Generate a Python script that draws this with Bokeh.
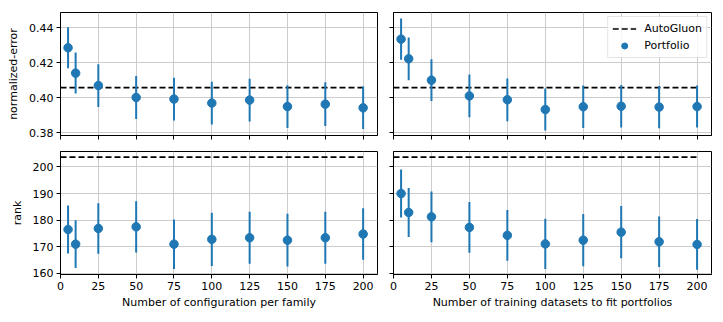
from bokeh.plotting import figure
from bokeh.layouts import gridplot
from bokeh.models import Range1d, FixedTicker, NumeralTickFormatter, Legend, LegendItem, ColumnDataSource
from bokeh.embed import file_html
from bokeh.resources import INLINE
import numpy as np

# ---------------- data ----------------
x_vals = [5, 10, 25, 50, 75, 100, 125, 150, 175, 200]
ag_x = [0, 200]

err_cfg_mean = [0.4286, 0.4141, 0.4070, 0.4002, 0.3993, 0.3970, 0.3987, 0.3950, 0.3964, 0.3943]
err_cfg_se = [0.0117, 0.0117, 0.0122, 0.0123, 0.0122, 0.0122, 0.0122, 0.0122, 0.0125, 0.0121]
err_ds_mean = [0.4335, 0.4223, 0.4101, 0.4011, 0.3989, 0.3933, 0.3949, 0.3952, 0.3947, 0.3950]
err_ds_se = [0.0118, 0.0122, 0.0119, 0.0122, 0.0122, 0.0120, 0.0121, 0.0121, 0.0121, 0.0120]

rank_cfg_mean = [176.5, 171.0, 176.9, 177.5, 171.0, 172.8, 173.4, 172.5, 173.4, 174.8]
rank_cfg_se = [9.0, 9.0, 9.5, 9.6, 9.3, 10.0, 9.8, 9.9, 9.8, 9.7]
rank_ds_mean = [190.0, 182.9, 181.25, 177.3, 174.3, 171.1, 172.5, 175.5, 171.9, 170.9]
rank_ds_se = [9.0, 9.2, 9.5, 9.5, 9.5, 9.4, 9.8, 9.8, 9.5, 9.5]

autogluon_err = 0.4058
autogluon_rank = 203.7

x_ticks = [0, 25, 50, 75, 100, 125, 150, 175, 200]
err_ticks = [0.38, 0.40, 0.42, 0.44]
rank_ticks = [160, 170, 180, 190, 200]

xlabel_left = "Number of configuration per family"
xlabel_right = "Number of training datasets to fit portfolios"

BLUE = "#1f77b4"
FONT = "DejaVu Sans"
FS = "11px"


def make(mean, se, ag, yr, yticks, left, bottom, ylabel=None, xlabel=None, legend=False, yfmt=None):
    p = figure(output_backend="svg", toolbar_location=None,
               frame_width=317 if left else 318, frame_height=123,
               x_range=Range1d(0, 209.5), y_range=Range1d(*yr))
    p.min_border_top = 12 if not bottom else 8
    p.min_border_bottom = 8 if not bottom else 40
    p.min_border_left = 60 if left else 8
    p.min_border_right = 8 if left else 4
    p.background_fill_color = "white"
    p.border_fill_color = "white"
    p.outline_line_color = "black"
    p.outline_line_width = 1
    for g in (p.xgrid, p.ygrid):
        g.grid_line_color = "#cccccc"
        g.grid_line_width = 1
    p.xaxis.ticker = FixedTicker(ticks=x_ticks)
    p.yaxis.ticker = FixedTicker(ticks=yticks)
    if yfmt:
        p.yaxis.formatter = NumeralTickFormatter(format=yfmt)
    for ax in (p.xaxis[0], p.yaxis[0]):
        ax.axis_line_color = "black"
        ax.major_tick_out = 4
        ax.major_tick_in = 0
        ax.minor_tick_out = 0
        ax.minor_tick_in = 0
        ax.major_label_text_font = FONT
        ax.major_label_text_font_size = FS
        ax.major_label_text_color = "black"
        ax.axis_label_text_font = FONT
        ax.axis_label_text_font_size = FS
        ax.axis_label_text_font_style = "normal"
        ax.axis_label_text_color = "black"
        ax.major_label_standoff = 3
    if not bottom:
        p.xaxis.major_label_overrides = {t: "" for t in x_ticks}
        p.xaxis.major_label_standoff = 0
    if not left:
        p.yaxis.major_label_overrides = {t: "" for t in yticks}
        p.yaxis.major_label_standoff = 0
    if ylabel:
        p.yaxis.axis_label = ylabel
        p.yaxis.axis_label_standoff = 6
    if xlabel:
        p.xaxis.axis_label = xlabel
        p.xaxis.axis_label_standoff = 3

    m = np.array(mean)
    s = np.array(se)
    src = ColumnDataSource(dict(x=x_vals, y=m, lo=m - s, hi=m + s))
    l_ag = p.line(x=ag_x, y=[ag, ag], line_color="black", line_width=1.6, line_dash="6 3")
    p.segment(x0="x", y0="lo", x1="x", y1="hi", source=src, line_color=BLUE, line_width=2)
    r_pt = p.scatter(x="x", y="y", source=src, marker="circle", size=8.5,
                     fill_color=BLUE, line_color=BLUE)
    if legend:
        lg = Legend(items=[LegendItem(label="AutoGluon", renderers=[l_ag]),
                           LegendItem(label="Portfolio", renderers=[r_pt])],
                    location="top_right")
        lg.label_text_font = FONT
        lg.label_text_font_size = FS
        lg.label_text_color = "black"
        lg.border_line_color = "#cccccc"
        lg.border_line_width = 1
        lg.background_fill_alpha = 0.8
        lg.margin = 4
        lg.padding = 4
        lg.spacing = 2
        lg.glyph_width = 24
        lg.glyph_height = 15
        lg.label_standoff = 8
        lg.label_height = 14
        p.add_layout(lg, "center")
    return p


p1 = make(err_cfg_mean, err_cfg_se, autogluon_err, (0.3785, 0.4487), err_ticks, True, False,
          ylabel="normalized-error", yfmt="0.00")
p2 = make(err_ds_mean, err_ds_se, autogluon_err, (0.3785, 0.4487), err_ticks, False, False,
          legend=True, yfmt="0.00")
p3 = make(rank_cfg_mean, rank_cfg_se, autogluon_rank, (159.6, 205.8), rank_ticks, True, True,
          ylabel="rank", xlabel=xlabel_left)
p4 = make(rank_ds_mean, rank_ds_se, autogluon_rank, (159.6, 205.8), rank_ticks, False, True,
          xlabel=xlabel_right)

grid = gridplot([[p1, p2], [p3, p4]], toolbar_location=None)

with open("out.html", "w") as f:
    f.write(file_html(grid, INLINE))
